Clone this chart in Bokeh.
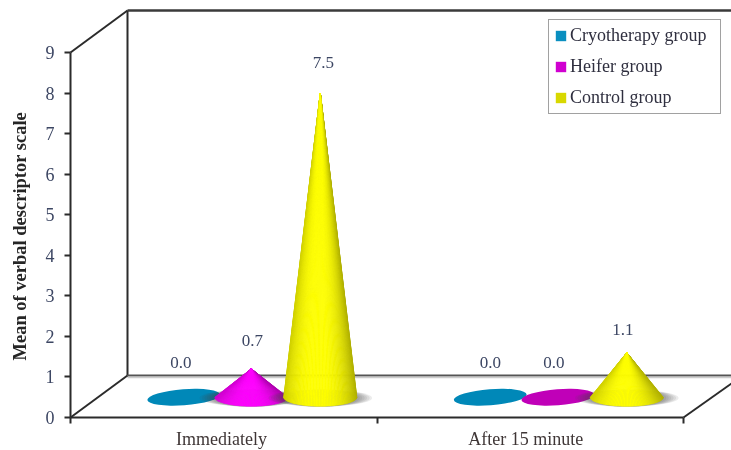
import numpy as np
from bokeh.plotting import figure
from bokeh.models import (LinearAxis, FixedTicker, Range1d, Legend, LegendItem,
                          ColumnDataSource)
from bokeh.core.properties import value
from bokeh.embed import file_html
from bokeh.resources import INLINE

categories = ["Immediately", "After 15 minute"]
series_names = ["Cryotherapy group", "Heifer group", "Control group"]
cryotherapy = [0.0, 0.0]
heifer = [0.7, 0.0]
control = [7.5, 1.1]
y_ticks = [0, 1, 2, 3, 4, 5, 6, 7, 8, 9]

W, H = 731, 450
X0, X2 = 70.0, 683.0      # pixel span of the front floor edge
Y0, Y9 = 417.0, 52.0      # pixel span of the y axis
ux = (X2 - X0) / 2.0      # pixels per category
uy = (Y0 - Y9) / 9.0      # pixels per value unit
SERIF = "Liberation Serif"

p = figure(width=W, height=H, output_backend="svg", toolbar_location=None,
           x_range=Range1d(-X0 / ux, (W - X0) / ux),
           y_range=Range1d(-(H - Y0) / uy, Y0 / uy),
           min_border=0, min_border_left=0, min_border_right=0,
           min_border_top=0, min_border_bottom=0,
           x_axis_type=None, y_axis_type=None)
p.styles = {"filter": "blur(0.45px)"}
p.outline_line_color = None
p.grid.visible = False
p.background_fill_color = "white"
p.border_fill_color = "white"

# depth of the 3-D box, in data units
dx = 57.0 / ux
dy = 42.0 / uy
right_end = (W - X0) / ux

# box edges
ink = "#2b2b2b"
p.line([dx, dx], [dy, 9 + dy], line_color=ink, line_width=2)
p.line([dx, right_end], [9 + dy, 9 + dy], line_color="#3a3a3a", line_width=2.4)
p.line([dx, right_end], [dy, dy], line_color="#555555", line_width=2.2)
p.line([dx, right_end], [dy - 0.05, dy - 0.05], line_color="#cccccc", line_width=1.5)
p.line([0, dx], [0, dy], line_color=ink, line_width=2)
p.line([0, dx], [9, 9 + dy], line_color=ink, line_width=2)
p.line([2, 2 + 48.0 / ux], [0, 34.0 / uy], line_color=ink, line_width=2)

# axes
yax = LinearAxis(ticker=FixedTicker(ticks=y_ticks), fixed_location=0, bounds=(0, 9))
yax.axis_line_color = ink
yax.axis_line_width = 2
yax.major_tick_line_color = ink
yax.major_tick_line_width = 2
yax.major_tick_in = 0
yax.major_tick_out = 6
yax.minor_tick_line_color = None
yax.major_label_standoff = 10
yax.major_label_text_font = SERIF
yax.major_label_text_font_size = "18px"
yax.major_label_text_color = "#3c4663"
p.add_layout(yax, "left")

xax = LinearAxis(ticker=FixedTicker(ticks=[0, 1, 2]), fixed_location=0, bounds=(0, 2))
xax.axis_line_color = ink
xax.axis_line_width = 2
xax.major_tick_line_color = ink
xax.major_tick_line_width = 2
xax.major_tick_in = 0
xax.major_tick_out = 6
xax.minor_tick_line_color = None
xax.major_label_overrides = {0: "", 1: "", 2: ""}
xax.major_label_standoff = 0
xax.major_label_text_font_size = "1px"
p.add_layout(xax, "below")

label_at = [0.493, 1.485]
xlab = LinearAxis(ticker=FixedTicker(ticks=label_at), fixed_location=0, bounds=(0, 2))
xlab.axis_line_color = None
xlab.major_tick_line_color = None
xlab.minor_tick_line_color = None
xlab.major_label_overrides = dict(zip(label_at, categories))
xlab.major_label_standoff = 5
xlab.major_label_text_font = SERIF
xlab.major_label_text_font_size = "18px"
xlab.major_label_text_color = "#3f3636"
p.add_layout(xlab, "below")

# y title
p.text([-51.0 / ux], [4.47], text=["Mean of verbal descriptor scale"], angle=np.pi / 2,
       text_font=value(SERIF), text_font_size="18.5px", text_font_style="bold",
       text_color="#262626", text_align="center", text_baseline="middle")

# cones
floor = 0.5              # base centre height in value units
offsets = [-0.1305, 0.0900, 0.3150]   # series position within a category
a, b = 36.5, 9.0         # base half axes, pixels
colors = [(0, 136, 184), (255, 0, 255), (255, 255, 0)]
flat_colors = ["#0088b8", "#c000b8", "#e0e000"]


def shade_k(c):
    return 1 - 0.24 * abs(c + 0.1) ** 2.6


def shade(rgb, k):
    return "#%02x%02x%02x" % tuple(int(v * k) for v in rgb)


series = [cryotherapy, heifer, control]

for g in range(2):
    for s, vals in enumerate(series):
        v = vals[g]
        xc = g + 0.5 + offsets[s]
        if v <= 0:
            p.ellipse([xc], [floor], width=2 * a, height=2 * b - 2, angle=0.075,
                      width_units="screen", height_units="screen",
                      fill_color=flat_colors[s], line_color=None)
            continue
        # soft shadow, which also falls on the neighbour drawn before
        for w in np.linspace(1.42, 0.95, 8):
            p.ellipse([xc], [floor - 0.02], width=2 * a * w, height=2 * b * 0.95,
                      width_units="screen", height_units="screen",
                      fill_color="#444444", fill_alpha=0.1, line_color=None)
        ts = np.linspace(np.pi, 2 * np.pi, 71)
        strips = []
        for t0, t1 in zip(ts[:-1], ts[1:]):
            k = shade_k(np.cos((t0 + t1) / 2))
            strips.append((k,
                           [xc, xc + a * np.cos(t0) / ux, xc + a * np.cos(t1) / ux],
                           [floor + v, floor + b * np.sin(t0) / uy, floor + b * np.sin(t1) / uy]))
        strips.sort(key=lambda r: r[0])   # brightest strips last, so the tip stays light
        cols = [shade(colors[s], r[0]) for r in strips]
        p.patches([r[1] for r in strips], [r[2] for r in strips],
                  fill_color=cols, line_color=cols, line_width=0.6)

# value labels
lab_x, lab_y, lab_t, lab_off, lab_xo = [], [], [], [], []
gap = {0.0: 35, 0.7: 28, 7.5: 31, 1.1: 23}
shift = [[-3, 1, 3], [0, -4, -4]]
for g in range(2):
    for s, vals in enumerate(series):
        lab_x.append(g + 0.5 + offsets[s])
        lab_y.append(floor + vals[g])
        lab_t.append("%.1f" % vals[g])
        lab_off.append(-gap[vals[g]])
        lab_xo.append(shift[g][s])
src = ColumnDataSource(dict(x=lab_x, y=lab_y, t=lab_t, o=lab_off, xo=lab_xo))
p.text("x", "y", text="t", x_offset="xo", y_offset="o", source=src, text_font=value(SERIF),
       text_font_size="17px", text_color="#3c4663", text_align="center",
       text_baseline="middle")

# legend
items = []
for name, c in zip(series_names, ["#0a8fc0", "#d000d0", "#d8d800"]):
    r = p.quad(left=[np.nan], right=[np.nan], top=[np.nan], bottom=[np.nan],
               fill_color=c, line_color=None)
    items.append(LegendItem(label=name, renderers=[r]))
legend = Legend(items=items, location=(548, H - 114),
                label_text_font=SERIF, label_text_font_size="18px",
                label_text_color="#2f2f3f",
                glyph_width=13, glyph_height=13, label_standoff=3,
                spacing=10, padding=5, margin=0,
                label_height=20, label_width=145,
                border_line_color="#444444", border_line_width=1.5,
                background_fill_color="white", background_fill_alpha=1)
p.add_layout(legend, "center")

open("out.html", "w").write(file_html(p, INLINE))
